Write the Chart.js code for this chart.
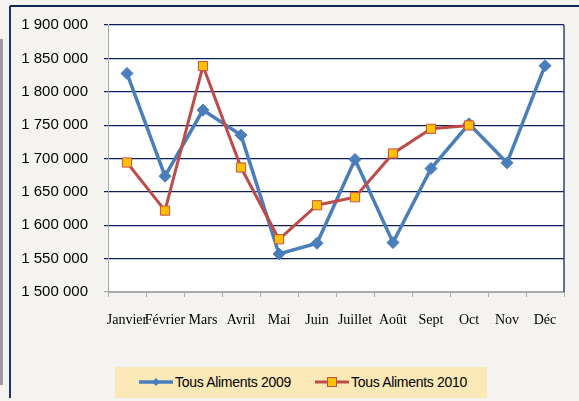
<!DOCTYPE html>
<html>
<head>
<meta charset="utf-8">
<script src="https://cdn.jsdelivr.net/npm/chart.js@4.4.1/dist/chart.umd.min.js"></script>
<style>
  html, body { margin: 0; padding: 0; }
  body { width: 579px; height: 401px; background: #f4f3ef; position: relative; overflow: hidden; }
  #frame-top { position: absolute; left: 10px; top: 5px; width: 569px; height: 2px; background: #10245e; }
  #frame-left { position: absolute; left: 9px; top: 6px; width: 2px; height: 392px; background: #1d3370; }
  #side-bar { position: absolute; left: 0; top: 39px; width: 3px; height: 346px; background: #9c9c9c; }
  #chart { position: absolute; left: 0; top: 0; }
  #legend { position: absolute; left: 115px; top: 367px; width: 372px; height: 31px; background: #fae8b7;
            font-family: "Liberation Sans Narrow", "Liberation Sans", Arial, sans-serif; font-size: 14px;
            letter-spacing: -0.3px; color: #000; }
  .item { position: absolute; top: 5px; height: 20px; line-height: 20px; white-space: nowrap; }
  .item canvas { vertical-align: middle; margin-right: 2px; position: relative; top: -1px; }
</style>
</head>
<body>
<div id="side-bar"></div>
<div id="frame-top"></div>
<div id="frame-left"></div>
<canvas id="chart" width="579" height="401"></canvas>
<div id="legend"></div>
<script>
// Monthly totals
const months = ['Janvier', 'Février', 'Mars', 'Avril', 'Mai', 'Juin', 'Juillet', 'Août', 'Sept', 'Oct', 'Nov', 'Déc'];
const aliments2009 = [1827500, 1673500, 1772500, 1735000, 1557000, 1573000, 1698500, 1574000, 1685000, 1752000, 1693500, 1839000];
const aliments2010 = [1694000, 1622000, 1838500, 1686500, 1579000, 1630000, 1642000, 1707500, 1744500, 1749500, null, null];
const yMin = 1500000;
const yMax = 1900000;
const yStep = 50000;

const navy = '#0c1f5c';
const axisGrey = '#a9a9a9';

function formatThousands(v) {
    return String(v).replace(/\B(?=(\d{3})+(?!\d))/g, ' ');
}

// white plot area + right border
const plotBackground = {
    id: 'plotBackground',
    beforeDraw(chart) {
        const { ctx, chartArea: a } = chart;
        ctx.save();
        ctx.fillStyle = '#ffffff';
        ctx.fillRect(a.left, a.top, a.right - a.left, a.bottom - a.top);
        ctx.restore();
    },
    afterDraw(chart) {
        const { ctx, chartArea: a } = chart;
        ctx.save();
        ctx.strokeStyle = '#2a4480';
        ctx.lineWidth = 1.5;
        ctx.beginPath();
        ctx.moveTo(a.right, a.top);
        ctx.lineTo(a.right, a.bottom);
        ctx.stroke();
        ctx.restore();
    }
};

const ctx = document.getElementById('chart').getContext('2d');
const chart = new Chart(ctx, {
    type: 'line',
    data: {
        labels: months,
        datasets: [
            {
                label: 'Tous Aliments 2009',
                data: aliments2009,
                borderColor: '#4a7ebb',
                borderWidth: 3.5,
                pointStyle: 'rectRot',
                pointRadius: 6,
                pointBackgroundColor: '#4a7ebb',
                pointBorderColor: '#4a7ebb',
                pointBorderWidth: 1,
                tension: 0,
                order: 2
            },
            {
                label: 'Tous Aliments 2010',
                data: aliments2010,
                borderColor: '#be4b48',
                borderWidth: 3,
                pointStyle: 'rect',
                pointRadius: 6.5,
                pointBackgroundColor: '#ffc000',
                pointBorderColor: '#c0504d',
                pointBorderWidth: 1,
                tension: 0,
                order: 1
            }
        ]
    },
    options: {
        responsive: false,
        animation: false,
        devicePixelRatio: 1,
        layout: { padding: { left: 0, top: 25, right: 15, bottom: 69 } },
        plugins: {
            legend: { display: false },
            tooltip: { enabled: false }
        },
        scales: {
            x: {
                offset: true,
                afterFit: s => { s.height = 40; },
                grid: { offset: true, drawOnChartArea: false, color: axisGrey, tickLength: 5 },
                border: { color: axisGrey, width: 1 },
                ticks: {
                    autoSkip: false, maxRotation: 0, minRotation: 0, padding: 15,
                    color: '#000',
                    font: { family: '"Liberation Serif", "Times New Roman", serif', size: 14 }
                }
            },
            y: {
                min: yMin,
                max: yMax,
                afterFit: s => { s.width = 108; },
                grid: {
                    color: c => (c.tick && c.tick.value === yMin ? axisGrey : navy),
                    lineWidth: 1.2,
                    tickLength: 4
                },
                border: { color: axisGrey, width: 1 },
                ticks: {
                    stepSize: yStep,
                    padding: 16,
                    color: '#000',
                    font: { family: '"Liberation Sans Narrow", "Liberation Sans", Arial, sans-serif', size: 15 },
                    callback: v => formatThousands(v)
                }
            }
        }
    },
    plugins: [plotBackground]
});

// Legend built from the datasets
const legend = document.getElementById('legend');
const legendLeft = [24, 200];
chart.data.datasets.forEach((ds, i) => {
    const item = document.createElement('div');
    item.className = 'item';
    item.style.left = legendLeft[i] + 'px';
    const icon = document.createElement('canvas');
    icon.width = 34;
    icon.height = 14;
    const g = icon.getContext('2d');
    g.strokeStyle = ds.borderColor;
    g.lineWidth = ds.borderWidth;
    g.beginPath();
    g.moveTo(0, 7);
    g.lineTo(34, 7);
    g.stroke();
    if (ds.pointStyle === 'rect') {
        g.fillStyle = ds.pointBackgroundColor;
        g.fillRect(12.5, 2.5, 9, 9);
        g.strokeStyle = ds.pointBorderColor;
        g.lineWidth = 1;
        g.strokeRect(12.5, 2.5, 9, 9);
    } else {
        g.fillStyle = ds.pointBackgroundColor;
        g.beginPath();
        g.moveTo(17, 3);
        g.lineTo(21, 7);
        g.lineTo(17, 11);
        g.lineTo(13, 7);
        g.closePath();
        g.fill();
    }
    item.appendChild(icon);
    item.appendChild(document.createTextNode(ds.label));
    legend.appendChild(item);
});
</script>
</body>
</html>
